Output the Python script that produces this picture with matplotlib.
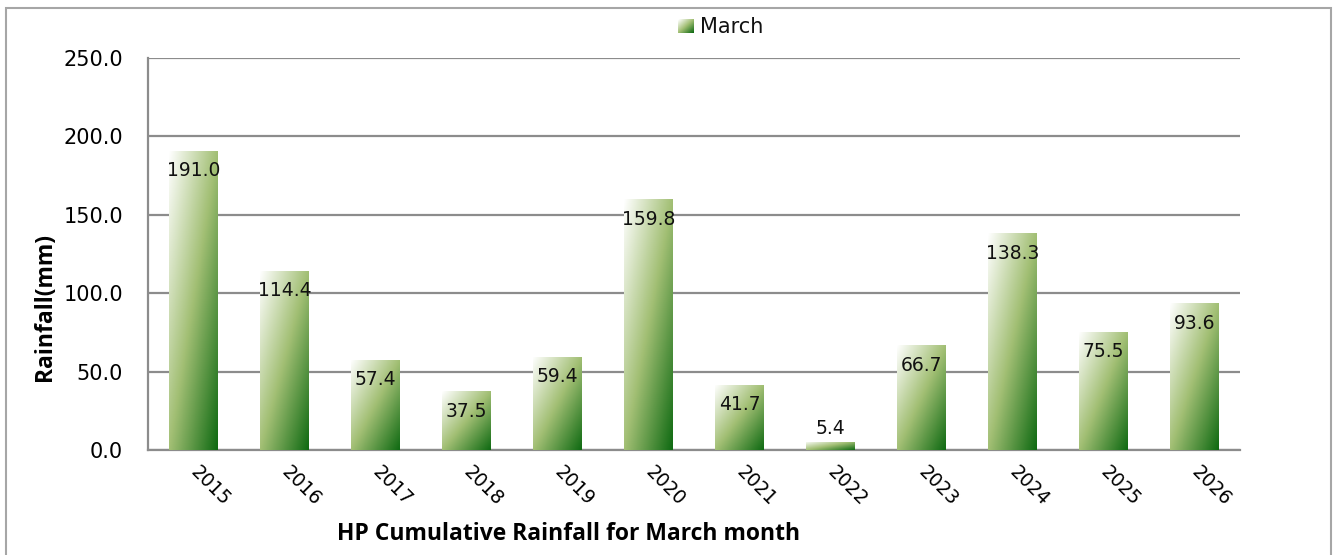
import numpy as np
import matplotlib
matplotlib.use('Agg')
import matplotlib.pyplot as plt
from matplotlib.colors import LinearSegmentedColormap
from matplotlib.patches import Rectangle

years = ['2015', '2016', '2017', '2018', '2019', '2020',
         '2021', '2022', '2023', '2024', '2025', '2026']
rainfall = [191.0, 114.4, 57.4, 37.5, 59.4, 159.8, 41.7, 5.4, 66.7, 138.3, 75.5, 93.6]
yticks = [0, 50, 100, 150, 200, 250]
legend_label = 'March'
xlabel = 'HP Cumulative Rainfall for March month'
ylabel = 'Rainfall(mm)'

W, H = 1333, 555
fig = plt.figure(figsize=(W / 100, H / 100), dpi=100)
fig.patch.set_facecolor('white')

# outer border (bottom edge cut off)
fig.patches.append(Rectangle((6 / W, -0.05), (1331 - 6) / W, 1 - 8 / H + 0.05,
                             transform=fig.transFigure, fill=False,
                             edgecolor='#a6a6a6', lw=1.5))

left, right, top, bottom = 148, 1240, 58, 450
ax = fig.add_axes([left / W, 1 - bottom / H, (right - left) / W, (bottom - top) / H])

cmap = LinearSegmentedColormap.from_list('grn', ['#ffffff', '#a2bf74', '#0f6a12'])
u = np.linspace(0, 1, 64)
v = np.linspace(0, 1, 256)
U, V = np.meshgrid(u, v)
grad = (U + V) / 2

x = np.arange(len(years))
bars = ax.bar(x, rainfall, width=0.53, color='none', edgecolor='none', zorder=3)
for b in bars:
    x0, w, h = b.get_x(), b.get_width(), b.get_height()
    im = ax.imshow(grad, cmap=cmap, vmin=0, vmax=1, extent=(x0, x0 + w, 0, h),
                   origin='upper', aspect='auto', interpolation='bilinear', zorder=3)
    im.set_clip_path(b)

for i, val in enumerate(rainfall):
    off = -20 if val > 20 else 13
    ax.annotate(f'{val:.1f}', (x[i], val), xytext=(0, off), textcoords='offset pixels',
                ha='center', va='center', fontsize=13.5, color='#111111', zorder=5)

ax.set_xlim(-0.5, len(years) - 0.5)
ax.set_ylim(0, 250)
ax.set_yticks(yticks)
ax.set_yticklabels([f'{t:.1f}' for t in yticks], fontsize=15)
ax.set_xticks(x)
ax.set_xticklabels(years, rotation=-45, ha='left', va='center', rotation_mode='anchor', fontsize=13.5)
ax.tick_params(axis='y', length=0, pad=18)
ax.tick_params(axis='x', length=0, pad=14)

ax.yaxis.grid(True, color='#8c8c8c', lw=1.6)
ax.set_axisbelow(True)
for s in ['top', 'right']:
    ax.spines[s].set_visible(False)
for s in ['left', 'bottom']:
    ax.spines[s].set_color('#8c8c8c')
    ax.spines[s].set_linewidth(1.6)

# legend
lax = fig.add_axes([678 / W, 1 - 33 / H, 16 / W, 14 / H])
lax.imshow(np.add.outer(np.linspace(0, 1, 16), np.linspace(0, 1, 16)) / 2, cmap=cmap,
           vmin=0, vmax=1, aspect='auto', origin='upper')
lax.axis('off')
fig.text(700 / W, 1 - 27 / H, legend_label, ha='left', va='center', fontsize=15, color='#111111')

fig.text(45 / W, 1 - 307 / H, ylabel, rotation=90, ha='center', va='center',
         fontsize=16.5, fontweight='bold', family='Open Sans')
fig.text(569 / W, 1 - 534 / H, xlabel, ha='center', va='center',
         fontsize=16.5, fontweight='bold', family='Open Sans')

fig.savefig('out.png', dpi=100)
